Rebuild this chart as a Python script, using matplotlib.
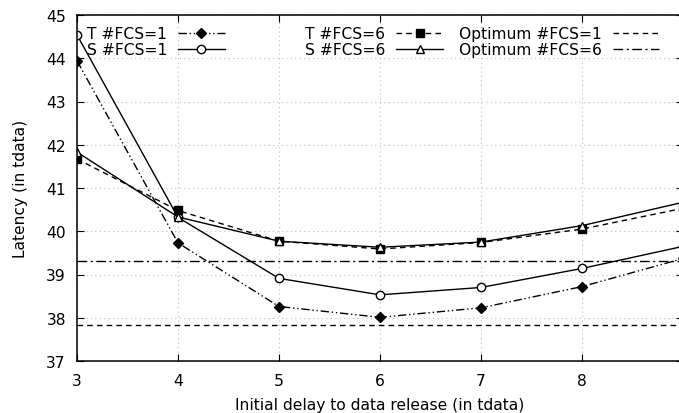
import matplotlib
matplotlib.use("Agg")
import matplotlib.pyplot as plt

x = [3, 4, 5, 6, 7, 8, 9]
t_fcs1 = [43.94, 39.73, 38.26, 38.01, 38.23, 38.72, 39.37]
s_fcs1 = [44.54, 40.32, 38.91, 38.53, 38.70, 39.14, 39.65]
t_fcs6 = [41.67, 40.48, 39.77, 39.59, 39.74, 40.05, 40.53]
s_fcs6 = [41.83, 40.33, 39.77, 39.63, 39.75, 40.13, 40.67]
opt_fcs1 = 37.83
opt_fcs6 = 39.31

xticks = [3, 4, 5, 6, 7, 8]
yticks = [37, 38, 39, 40, 41, 42, 43, 44, 45]

W, H = 679, 414
fig = plt.figure(figsize=(W/100, H/100), dpi=100)
ax = fig.add_axes([77/W, 1-362/H, (683-77)/W, (362-16)/H])

fs = 11.2
lw = 1.0
h1, = ax.plot(x, t_fcs1, color='black', lw=lw, linestyle=(0, (6, 2, 1, 2, 1, 2)),
              marker='D', markersize=5, markerfacecolor='black', label='T #FCS=1')
h2, = ax.plot(x, s_fcs1, color='black', lw=lw, linestyle='-',
              marker='o', markersize=6, markerfacecolor='white', label='S #FCS=1')
h3, = ax.plot(x, t_fcs6, color='black', lw=lw, linestyle=(0, (4, 3)),
              marker='s', markersize=6, markerfacecolor='black', label='T #FCS=6')
h4, = ax.plot(x, s_fcs6, color='black', lw=lw, linestyle='-',
              marker='^', markersize=6, markerfacecolor='white', label='S #FCS=6')
h5 = ax.axhline(opt_fcs1, color='black', lw=lw, linestyle=(0, (4, 3)), label='Optimum #FCS=1')
h6 = ax.axhline(opt_fcs6, color='black', lw=lw, linestyle=(0, (7, 2.5, 1.5, 2.5)), label='Optimum #FCS=6')

ax.set_xlim(3, 9)
ax.set_ylim(37, 45)
ax.set_xticks(xticks)
ax.set_yticks(yticks)
ax.tick_params(direction='in', top=True, right=True, length=5, labelsize=fs, pad=9)
ax.tick_params(axis='y', pad=8)
ax.grid(True, color='#bbbbbb', linestyle=(0, (1, 3)), lw=0.8)
ax.set_axisbelow(True)
for s in ax.spines.values():
    s.set_linewidth(1.1)

ax.set_xlabel('Initial delay to data release (in tdata)', fontsize=fs, labelpad=6)
ax.set_ylabel('Latency (in tdata)', fontsize=fs, labelpad=13)

groups = [([h1, h2], 87), ([h3, h4], 305), ([h5, h6], 459)]
for hs, xpix in groups:
    leg = fig.legend(handles=hs, ncol=1, loc='upper left',
                     bbox_to_anchor=(xpix/W, 1-27/H), bbox_transform=fig.transFigure,
                     frameon=False, markerfirst=False, fontsize=fs,
                     handlelength=3.0, handletextpad=0.7,
                     labelspacing=0.08, borderaxespad=0, borderpad=0)

fig.savefig('out.png', dpi=100)
